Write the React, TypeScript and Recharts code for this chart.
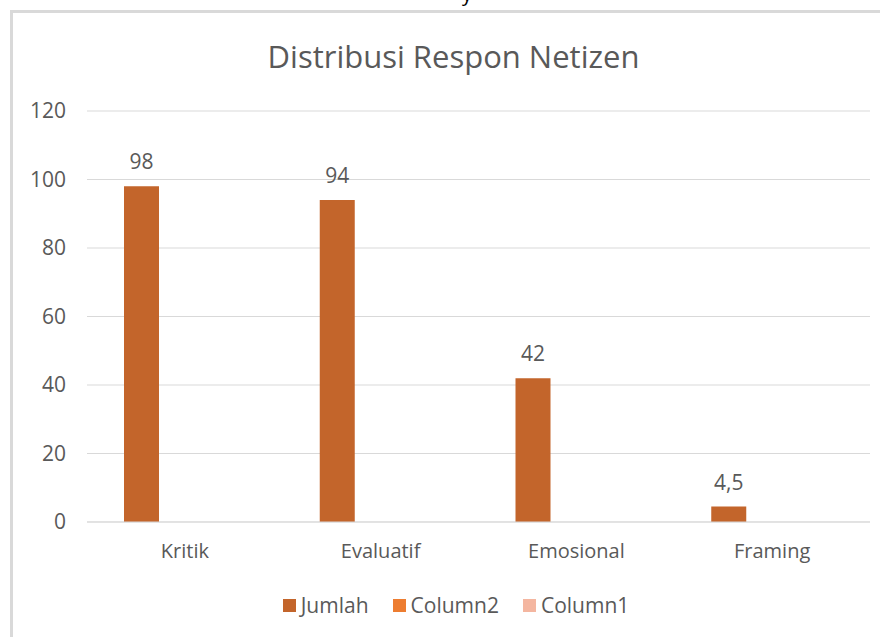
import { BarChart, Bar, XAxis, YAxis, CartesianGrid, Legend, LabelList } from 'recharts';

const categories = ['Kritik', 'Evaluatif', 'Emosional', 'Framing'];
const jumlah = [98, 94, 42, 4.5];
const column2: (number | null)[] = [null, null, null, null];
const column1: (number | null)[] = [null, null, null, null];
const yTicks = [0, 20, 40, 60, 80, 100, 120];
const seriesOrder = ['Jumlah', 'Column2', 'Column1'];

const seriesColors = {
  Jumlah: '#C3652B',
  Column2: '#ED7D31',
  Column1: '#F4B6A0',
};

const data = categories.map((name, i) => ({
  name,
  Jumlah: jumlah[i],
  Column2: column2[i],
  Column1: column1[i],
}));

const font = "'Open Sans', 'Noto Sans', sans-serif";
const textGray = '#595959';

function LegendContent(props: any) {
  const items = [...(props.payload || [])].sort(
    (a: any, b: any) => seriesOrder.indexOf(a.value) - seriesOrder.indexOf(b.value)
  );
  return (
    <div
      style={{
        height: 28,
        display: 'flex',
        justifyContent: 'center',
        alignItems: 'center',
        fontFamily: font,
        fontSize: 21,
        color: textGray,
        paddingLeft: 66,
      }}
    >
      {items.map((item: any) => (
        <div
          key={item.value}
          style={{ display: 'flex', alignItems: 'center', marginRight: 24 }}
        >
          <span
            style={{
              width: 13,
              height: 13,
              background: item.color,
              display: 'inline-block',
              marginRight: 5,
            }}
          />
          <span>{item.value}</span>
        </div>
      ))}
    </div>
  );
}

export default function App() {
  return (
    <div
      style={{
        position: 'absolute',
        left: 0,
        top: 0,
        width: 880,
        height: 637,
        overflow: 'hidden',
        background: '#fff',
        fontFamily: font,
      }}
    >
      <div
        style={{
          position: 'absolute',
          left: 462,
          top: -16,
          fontSize: 20,
          lineHeight: '20px',
          color: '#000',
        }}
      >
        y
      </div>

      <div
        style={{
          position: 'absolute',
          left: 10,
          top: 10,
          width: 900,
          height: 700,
          borderTop: '3px solid #D9D9D9',
          borderLeft: '3px solid #D9D9D9',
        }}
      />

      <div
        style={{
          position: 'absolute',
          left: 0,
          width: 907,
          top: 35,
          textAlign: 'center',
          fontSize: 31,
          lineHeight: '42px',
          color: textGray,
        }}
      >
        Distribusi Respon Netizen
      </div>

      <div style={{ position: 'absolute', left: 0, top: 0 }}>
        <BarChart
          width={880}
          height={637}
          data={data}
          margin={{ top: 111, right: 10, left: 0, bottom: 18 }}
          barSize={35}
          barGap={8}
        >
          <CartesianGrid vertical={false} stroke="#D9D9D9" />
          <YAxis
            width={87}
            domain={[0, 120]}
            ticks={yTicks}
            axisLine={false}
            tickLine={false}
            tickSize={0}
            tickMargin={21}
            tick={{ fill: textGray, fontSize: 21, fontFamily: font }}
          />
          <XAxis
            dataKey="name"
            height={69}
            axisLine={{ stroke: '#D9D9D9' }}
            tickLine={false}
            tickSize={0}
            tickMargin={22}
            tick={{ fill: textGray, fontSize: 20, fontFamily: font }}
          />
          <Legend verticalAlign="bottom" content={<LegendContent />} />
          <Bar dataKey="Jumlah" fill={seriesColors.Jumlah} isAnimationActive={false}>
            <LabelList
              dataKey="Jumlah"
              position="top"
              offset={17}
              fill={textGray}
              fontSize={21}
              fontFamily={font}
              formatter={(v: any) => String(v).replace('.', ',')}
            />
          </Bar>
          <Bar dataKey="Column2" fill={seriesColors.Column2} isAnimationActive={false} />
          <Bar dataKey="Column1" fill={seriesColors.Column1} isAnimationActive={false} />
        </BarChart>
      </div>
    </div>
  );
}
